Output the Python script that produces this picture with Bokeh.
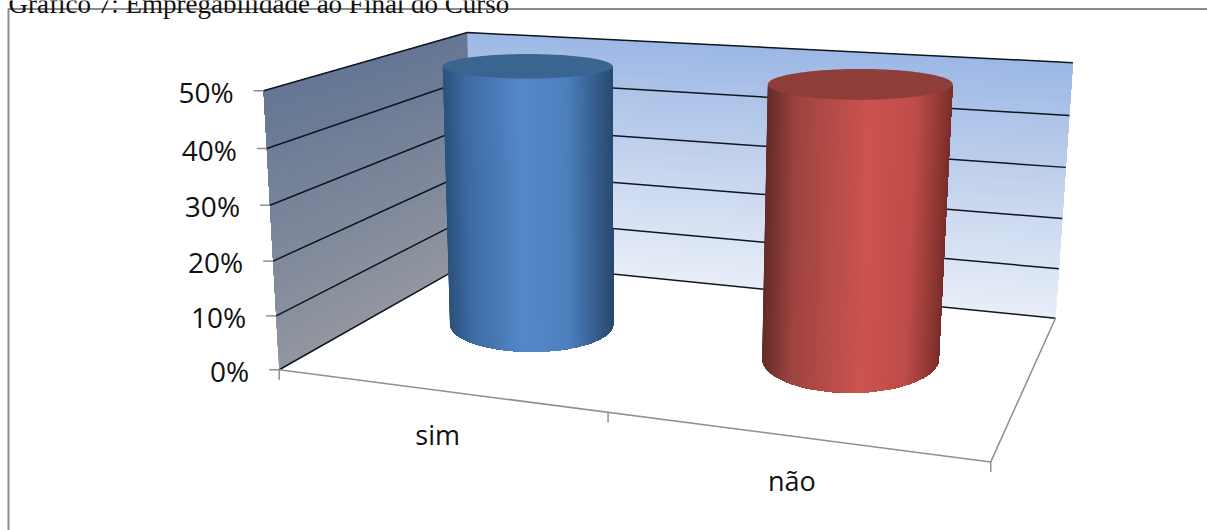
import numpy as np
from bokeh.core.properties import value
from bokeh.embed import file_html
from bokeh.models import Range1d
from bokeh.plotting import figure
from bokeh.resources import INLINE

TITLE = "Gráfico 7: Empregabilidade ao Final do Curso"
categories = ["sim", "não"]
shares = [50, 50]
axis_ticks = [0, 10, 20, 30, 40, 50]
tick_labels = ["0%", "10%", "20%", "30%", "40%", "50%"]

W, H = 1207, 530
AXIS_MAX = 50.0
BAR_CENTER = [0.497, 1.495]
BAR_DEPTH = [0.51, 0.52]
BAR_RADIUS_U = [0.274, 0.26]
BAR_RADIUS_D_FLOOR = [0.24, 0.26]
BAR_RADIUS_D_TOP = [0.2, 0.22]


def fit_camera():
    """Fit a pinhole projection for the chart box (category, depth, share) -> screen."""
    anchors = [
        (0, 0, 0, 280, 369), (2, 0, 0, 990, 462), (2, 1, 0, 1055.5, 317),
        (0, 1, 0, 471, 260), (0, 0, 50, 262, 90), (0, 1, 50, 468, 32),
        (2, 1, 50, 1072, 62.5),
    ]
    rows = []
    for u, d, h, sx, sy in anchors:
        X = [u, d, h / 50.0, 1]
        rows.append(X + [0, 0, 0, 0] + [-sx * c for c in X])
        rows.append([0, 0, 0, 0] + X + [-sy * c for c in X])
    _, _, vt = np.linalg.svd(np.array(rows, dtype=float))
    return vt[-1].reshape(3, 4)


CAM = fit_camera()


def project(u, d, h):
    u, d, h = np.broadcast_arrays(np.asarray(u, float), np.asarray(d, float), np.asarray(h, float))
    X = np.stack([u, d, h / 50.0, np.ones_like(u)])
    s = CAM @ X.reshape(4, -1)
    return (s[0] / s[2]).reshape(u.shape), (s[1] / s[2]).reshape(u.shape)


def lerp_color(stops, t):
    t = float(np.clip(t, 0, 1))
    xs = [s[0] for s in stops]
    rgb = [np.interp(t, xs, [s[1][i] for s in stops]) for i in range(3)]
    return "#%02x%02x%02x" % tuple(int(round(c)) for c in rgb)


def disc(cu, cd, h, radius_u, radius_d):
    """Screen-aligned ellipse (centre x, centre y, rx, ry) of a bar section at share h."""
    xa, _ = project(cu - radius_u, cd, h)
    xb, _ = project(cu + radius_u, cd, h)
    _, yn = project(cu, cd - radius_d, h)
    _, yf = project(cu, cd + radius_d, h)
    cx, cy = project(cu, cd, h)
    return float(cx), float(cy), float(xb - xa) / 2, float(yn - yf) / 2


p = figure(width=W, height=H, x_range=Range1d(0, W), y_range=Range1d(H, 0),
           output_backend="svg", toolbar_location=None, min_border=0,
           background_fill_color="white", border_fill_color="white")
p.axis.visible = False
p.grid.visible = False
p.outline_line_color = None

# Outer chart border
p.line([8, 8, W], [H, 8.5, 8.5], line_color="#8c8c8c", line_width=2)

# Caption, partly cut by the top of the page
p.text([8], [3], text=[TITLE], text_font=value("Liberation Serif"),
       text_font_size="27px", text_color="#111111", text_baseline="alphabetic")

# Side wall and back wall: each band is painted up to the wall top and overdrawn by the next
side_stops = [(0, (146, 150, 160)), (1, (100, 118, 148))]
back_stops = [(0, (232, 238, 248)), (0.5, (196, 211, 237)), (1, (155, 183, 229))]
bands = np.linspace(0, AXIS_MAX, 61)[:-1]
for lo in bands:
    xs, ys = project([0, 0, 0, 0], [0, 1, 1, 0], [lo, lo, AXIS_MAX, AXIS_MAX])
    p.patch(xs, ys, fill_color=lerp_color(side_stops, lo / AXIS_MAX), line_color=None)
    xs, ys = project([0, 2, 2, 0], [1, 1, 1, 1], [lo, lo, AXIS_MAX, AXIS_MAX])
    p.patch(xs, ys, fill_color=lerp_color(back_stops, lo / AXIS_MAX), line_color=None)

# Gridlines on both walls
for t in axis_ticks:
    xs, ys = project([0, 0, 2], [0, 1, 1], [t, t, t])
    p.line(xs, ys, line_color="#10151f", line_width=1.5)

# Floor edges and axis ticks
xs, ys = project([0, 2, 2], [0, 0, 1], [0, 0, 0])
p.line(xs, ys, line_color="#8f8f8f", line_width=1.5)
for u in range(3):
    x0, y0 = project(u, 0, 0)
    p.line([x0, x0], [y0, y0 + 10], line_color="#8f8f8f", line_width=1.5)
for t, lab in zip(axis_ticks, tick_labels):
    x0, y0 = project(0, 0, t)
    p.line([x0 - 10, x0], [y0, y0], line_color="#8f8f8f", line_width=1.5)
    p.text([x0 - 30], [y0 + 1], text=[lab], text_font=value("Open Sans"), text_font_size="28px",
           text_color="#111111", text_align="right", text_baseline="middle")

blue = [(0, (44, 82, 124)), (0.14, (62, 108, 164)), (0.45, (84, 136, 200)),
        (0.72, (76, 128, 190)), (0.92, (50, 88, 134)), (1, (42, 74, 112))]
red = [(0, (100, 44, 42)), (0.16, (158, 68, 64)), (0.55, (204, 84, 80)),
       (0.8, (190, 76, 72)), (0.95, (140, 54, 50)), (1, (120, 46, 44))]
caps = ["#3b6591", "#8f3d39"]
phi = np.linspace(np.pi, 0, 121)

for i, (name, share) in enumerate(zip(categories, shares)):
    cu, cd = BAR_CENTER[i], BAR_DEPTH[i]
    bcx, bcy, brx, bry = disc(cu, cd, 0, BAR_RADIUS_U[i], BAR_RADIUS_D_FLOOR[i])
    tcx, tcy, trx, try_ = disc(cu, cd, share, BAR_RADIUS_U[i], BAR_RADIUS_D_TOP[i])
    bx, by = bcx + brx * np.cos(phi), bcy + bry * np.sin(phi)
    tx, ty = tcx + trx * np.cos(phi), tcy + try_ * np.sin(phi)
    stops = blue if i == 0 else red
    # Shaded side: each slice spans to the right edge and the next one overdraws it
    for k in range(len(phi) - 1):
        col = lerp_color(stops, (1 - np.cos(phi[k] - np.pi)) / 2)
        p.patch(np.r_[bx[k:], tx[k:][::-1]], np.r_[by[k:], ty[k:][::-1]],
                fill_color=col, line_color=None)
    ang = np.linspace(0, 2 * np.pi, 181)
    p.patch(tcx + trx * np.cos(ang), tcy + try_ * np.sin(ang), fill_color=caps[i], line_color=None)
    # Category label under the near edge
    lx, ly = project(i + 0.5, 0, 0)
    p.text([lx], [ly + 44], text=[name], text_font=value("Open Sans"),
           text_font_size="27px", text_color="#111111", text_align="center", text_baseline="middle")

open("out.html", "w").write(file_html(p, INLINE))
